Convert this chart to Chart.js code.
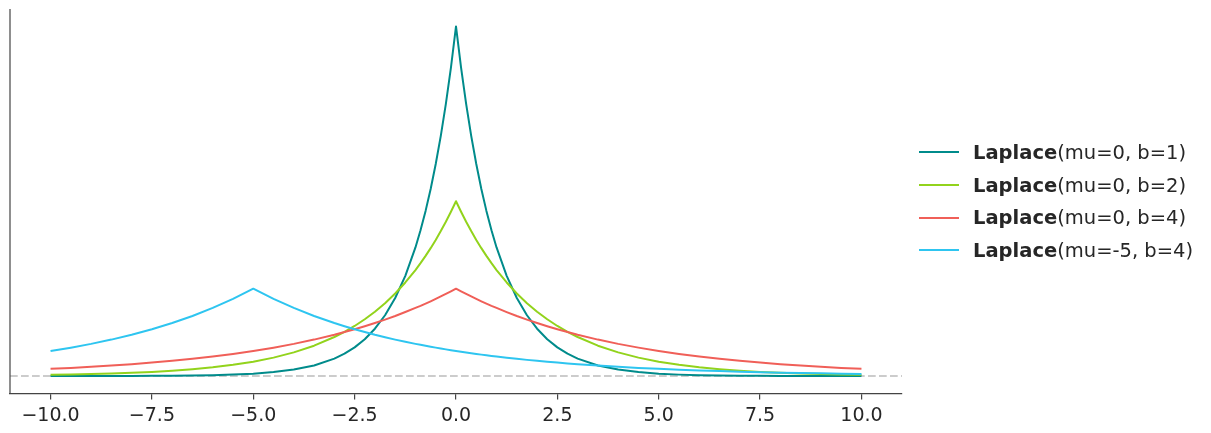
<!DOCTYPE html>
<html>
<head>
<meta charset="utf-8">
<script src="https://cdn.jsdelivr.net/npm/chart.js@4"></script>
<style>
  html, body { margin: 0; padding: 0; background: #fff; }
  #wrap { position: relative; width: 1211px; height: 433px; }
  #legend { position: absolute; left: 919px; top: 136px; font-family: "DejaVu Sans", sans-serif; font-size: 19.5px; color: #262626; }
  .row { position: relative; height: 32.7px; display: flex; align-items: center; white-space: nowrap; }
  .swatch { width: 40px; height: 2px; margin-right: 14px; }
  .row b { font-weight: bold; }
</style>
</head>
<body>
<div id="wrap">
  <canvas id="c" width="1211" height="433"></canvas>
  <div id="legend"></div>
</div>
<script>
const seriesNames = ["(mu=0, b=1)", "(mu=0, b=2)", "(mu=0, b=4)", "(mu=-5, b=4)"];
const seriesColors = ["#008b8b", "#92d31c", "#f05f58", "#2ec5f0"];
const xTicks = [-10, -7.5, -5, -2.5, 0, 2.5, 5, 7.5, 10];

const xs = [-10,-9.5,-9,-8.5,-8,-7.5,-7,-6.5,-6,-5.5,-5,-4.5,-4,-3.5,-3,-2.75,-2.5,-2.25,-2,-1.75,-1.5,-1.25,-1,-0.875,-0.75,-0.625,-0.5,-0.375,-0.25,-0.125,0,0.125,0.25,0.375,0.5,0.625,0.75,0.875,1,1.25,1.5,1.75,2,2.25,2.5,2.75,3,3.5,4,4.5,5,5.5,6,6.5,7,7.5,8,8.5,9,9.5,10];

const pdf_b1 = [0.0000,0.0000,0.0001,0.0001,0.0002,0.0003,0.0005,0.0008,0.0012,0.0020,0.0034,0.0056,0.0092,0.0151,0.0249,0.0320,0.0410,0.0527,0.0677,0.0869,0.1116,0.1433,0.1839,0.2084,0.2362,0.2676,0.3033,0.3436,0.3894,0.4412,0.5,0.4412,0.3894,0.3436,0.3033,0.2676,0.2362,0.2084,0.1839,0.1433,0.1116,0.0869,0.0677,0.0527,0.0410,0.0320,0.0249,0.0151,0.0092,0.0056,0.0034,0.0020,0.0012,0.0008,0.0005,0.0003,0.0002,0.0001,0.0001,0.0000,0.0000];

const pdf_b2 = [0.0017,0.0022,0.0028,0.0036,0.0046,0.0059,0.0075,0.0097,0.0124,0.0160,0.0205,0.0263,0.0338,0.0434,0.0558,0.0632,0.0716,0.0812,0.0920,0.1042,0.1181,0.1338,0.1516,0.1614,0.1718,0.1829,0.1947,0.2073,0.2206,0.2349,0.25,0.2349,0.2206,0.2073,0.1947,0.1829,0.1718,0.1614,0.1516,0.1338,0.1181,0.1042,0.0920,0.0812,0.0716,0.0632,0.0558,0.0434,0.0338,0.0263,0.0205,0.0160,0.0124,0.0097,0.0075,0.0059,0.0046,0.0036,0.0028,0.0022,0.0017];

const pdf_b4 = [0.0103,0.0116,0.0132,0.0149,0.0169,0.0192,0.0217,0.0246,0.0279,0.0316,0.0358,0.0406,0.0460,0.0521,0.0590,0.0629,0.0669,0.0712,0.0758,0.0807,0.0859,0.0915,0.0974,0.1004,0.1036,0.1069,0.1103,0.1138,0.1174,0.1212,0.125,0.1212,0.1174,0.1138,0.1103,0.1069,0.1036,0.1004,0.0974,0.0915,0.0859,0.0807,0.0758,0.0712,0.0669,0.0629,0.0590,0.0521,0.0460,0.0406,0.0358,0.0316,0.0279,0.0246,0.0217,0.0192,0.0169,0.0149,0.0132,0.0116,0.0103];

const pdf_m5b4 = [0.0358,0.0406,0.0460,0.0521,0.0590,0.0669,0.0758,0.0859,0.0974,0.1103,0.125,0.1103,0.0974,0.0859,0.0758,0.0712,0.0669,0.0629,0.0590,0.0555,0.0521,0.0490,0.0460,0.0446,0.0432,0.0419,0.0406,0.0393,0.0381,0.0369,0.0358,0.0347,0.0336,0.0326,0.0316,0.0306,0.0297,0.0288,0.0279,0.0262,0.0246,0.0231,0.0217,0.0204,0.0192,0.0180,0.0169,0.0149,0.0132,0.0116,0.0103,0.0091,0.0080,0.0071,0.0062,0.0055,0.0048,0.0043,0.0038,0.0033,0.0029];

const allSeries = [pdf_b1, pdf_b2, pdf_b4, pdf_m5b4];

const datasets = allSeries.map((s, i) => ({
  label: "Laplace" + seriesNames[i],
  data: xs.map((x, j) => ({ x: x, y: s[j] })),
  borderColor: seriesColors[i],
  borderWidth: 2,
  borderJoinStyle: 'round',
  pointRadius: 0,
  tension: 0,
  fill: false,
  order: allSeries.length - i
}));

const framePlugin = {
  id: 'frame',
  beforeDatasetsDraw(chart) {
    const ctx = chart.ctx, a = chart.chartArea, y = chart.scales.y.getPixelForValue(0);
    ctx.save();
    ctx.strokeStyle = '#cccccc';
    ctx.lineWidth = 2;
    ctx.setLineDash([7.7, 3.3]);
    ctx.beginPath();
    ctx.moveTo(a.left, y);
    ctx.lineTo(a.right, y);
    ctx.stroke();
    ctx.restore();
  },
  afterDraw(chart) {
    const ctx = chart.ctx, a = chart.chartArea;
    ctx.save();
    ctx.strokeStyle = '#444444';
    ctx.lineWidth = 1.2;
    ctx.beginPath();
    ctx.moveTo(a.left, a.top);
    ctx.lineTo(a.left, a.bottom);
    ctx.stroke();
    ctx.restore();
  }
};

new Chart(document.getElementById('c'), {
  type: 'line',
  data: { datasets: datasets },
  options: {
    responsive: false,
    animation: false,
    layout: { padding: { left: 10, top: 9, right: 309, bottom: 0 } },
    plugins: { legend: { display: false }, tooltip: { enabled: false } },
    scales: {
      x: {
        type: 'linear',
        min: -11, max: 11,
        afterFit(scale) { scale.height = 39.5; },
        afterBuildTicks(scale) { scale.ticks = xTicks.map(v => ({ value: v })); },
        grid: { display: true, drawOnChartArea: false, drawTicks: true, tickLength: 6, color: '#444444', lineWidth: 1.2 },
        border: { display: true, color: '#444444', width: 1.2 },
        ticks: {
          autoSkip: false, maxRotation: 0, padding: 5,
          color: '#262626',
          font: { family: 'DejaVu Sans', size: 19 },
          callback: (v) => Number(v).toFixed(1).replace('-', '\u2212')
        }
      },
      y: {
        display: false,
        min: -0.025, max: 0.525
      }
    }
  },
  plugins: [framePlugin]
});

const leg = document.getElementById('legend');
seriesNames.forEach((n, i) => {
  const row = document.createElement('div');
  row.className = 'row';
  const sw = document.createElement('span');
  sw.className = 'swatch';
  sw.style.background = seriesColors[i];
  const b = document.createElement('b');
  b.textContent = 'Laplace';
  const t = document.createElement('span');
  t.textContent = n;
  row.appendChild(sw); row.appendChild(b); row.appendChild(t);
  leg.appendChild(row);
});
</script>
</body>
</html>
